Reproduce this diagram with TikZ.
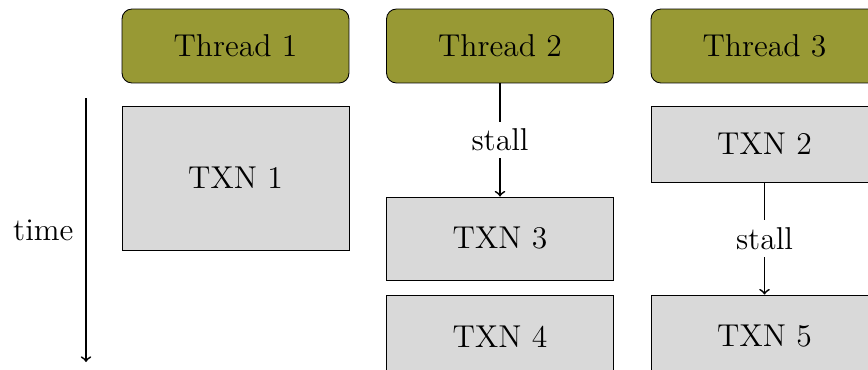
\documentclass[tikz,border=0pt]{standalone}
\usetikzlibrary{positioning}
\definecolor{threadfill}{RGB}{152,153,52}
\tikzset{
  threadbox/.style={draw,rounded corners=4.5pt,fill=threadfill,minimum width=3.632cm,minimum height=1.184cm,font=\Large},
  txnbox/.style={draw,fill=gray!30,minimum width=3.632cm,font=\Large},
}
\begin{document}
\begin{tikzpicture}[x=0.016cm,y=-0.016cm]
  \useasboundingbox (0,0) rectangle (868,369);
  % threads
  \node[threadbox] (th1) at (235.5,46) {Thread 1};
  \node[threadbox] (th2) at (500,46) {Thread 2};
  \node[threadbox] (th3) at (764.5,46) {Thread 3};
  % transactions
  \node[txnbox,minimum height=2.304cm] (txn1) at (235.5,178) {TXN 1};
  \node[txnbox,minimum height=1.216cm] (txn2) at (764.5,144) {TXN 2};
  \node[txnbox,minimum height=1.328cm] (txn3) at (500,238.5) {TXN 3};
  \node[txnbox,minimum height=1.328cm] (txn4) at (500,336.5) {TXN 4};
  \node[txnbox,minimum height=1.328cm] (txn5) at (764.5,336.5) {TXN 5};
  % stalls
  \draw[->,thick] (th2) -- node[fill=white,font=\Large]{stall} (txn3);
  \draw[->,thick] (txn2) -- node[fill=white,font=\Large]{stall} (txn5);
  % time axis
  \coordinate (t0) at (86,98);
  \coordinate (t1) at (86,362);
  \draw[->,thick] (t0) -- node[left=2pt,font=\Large]{time} (t1);
\end{tikzpicture}
\end{document}
